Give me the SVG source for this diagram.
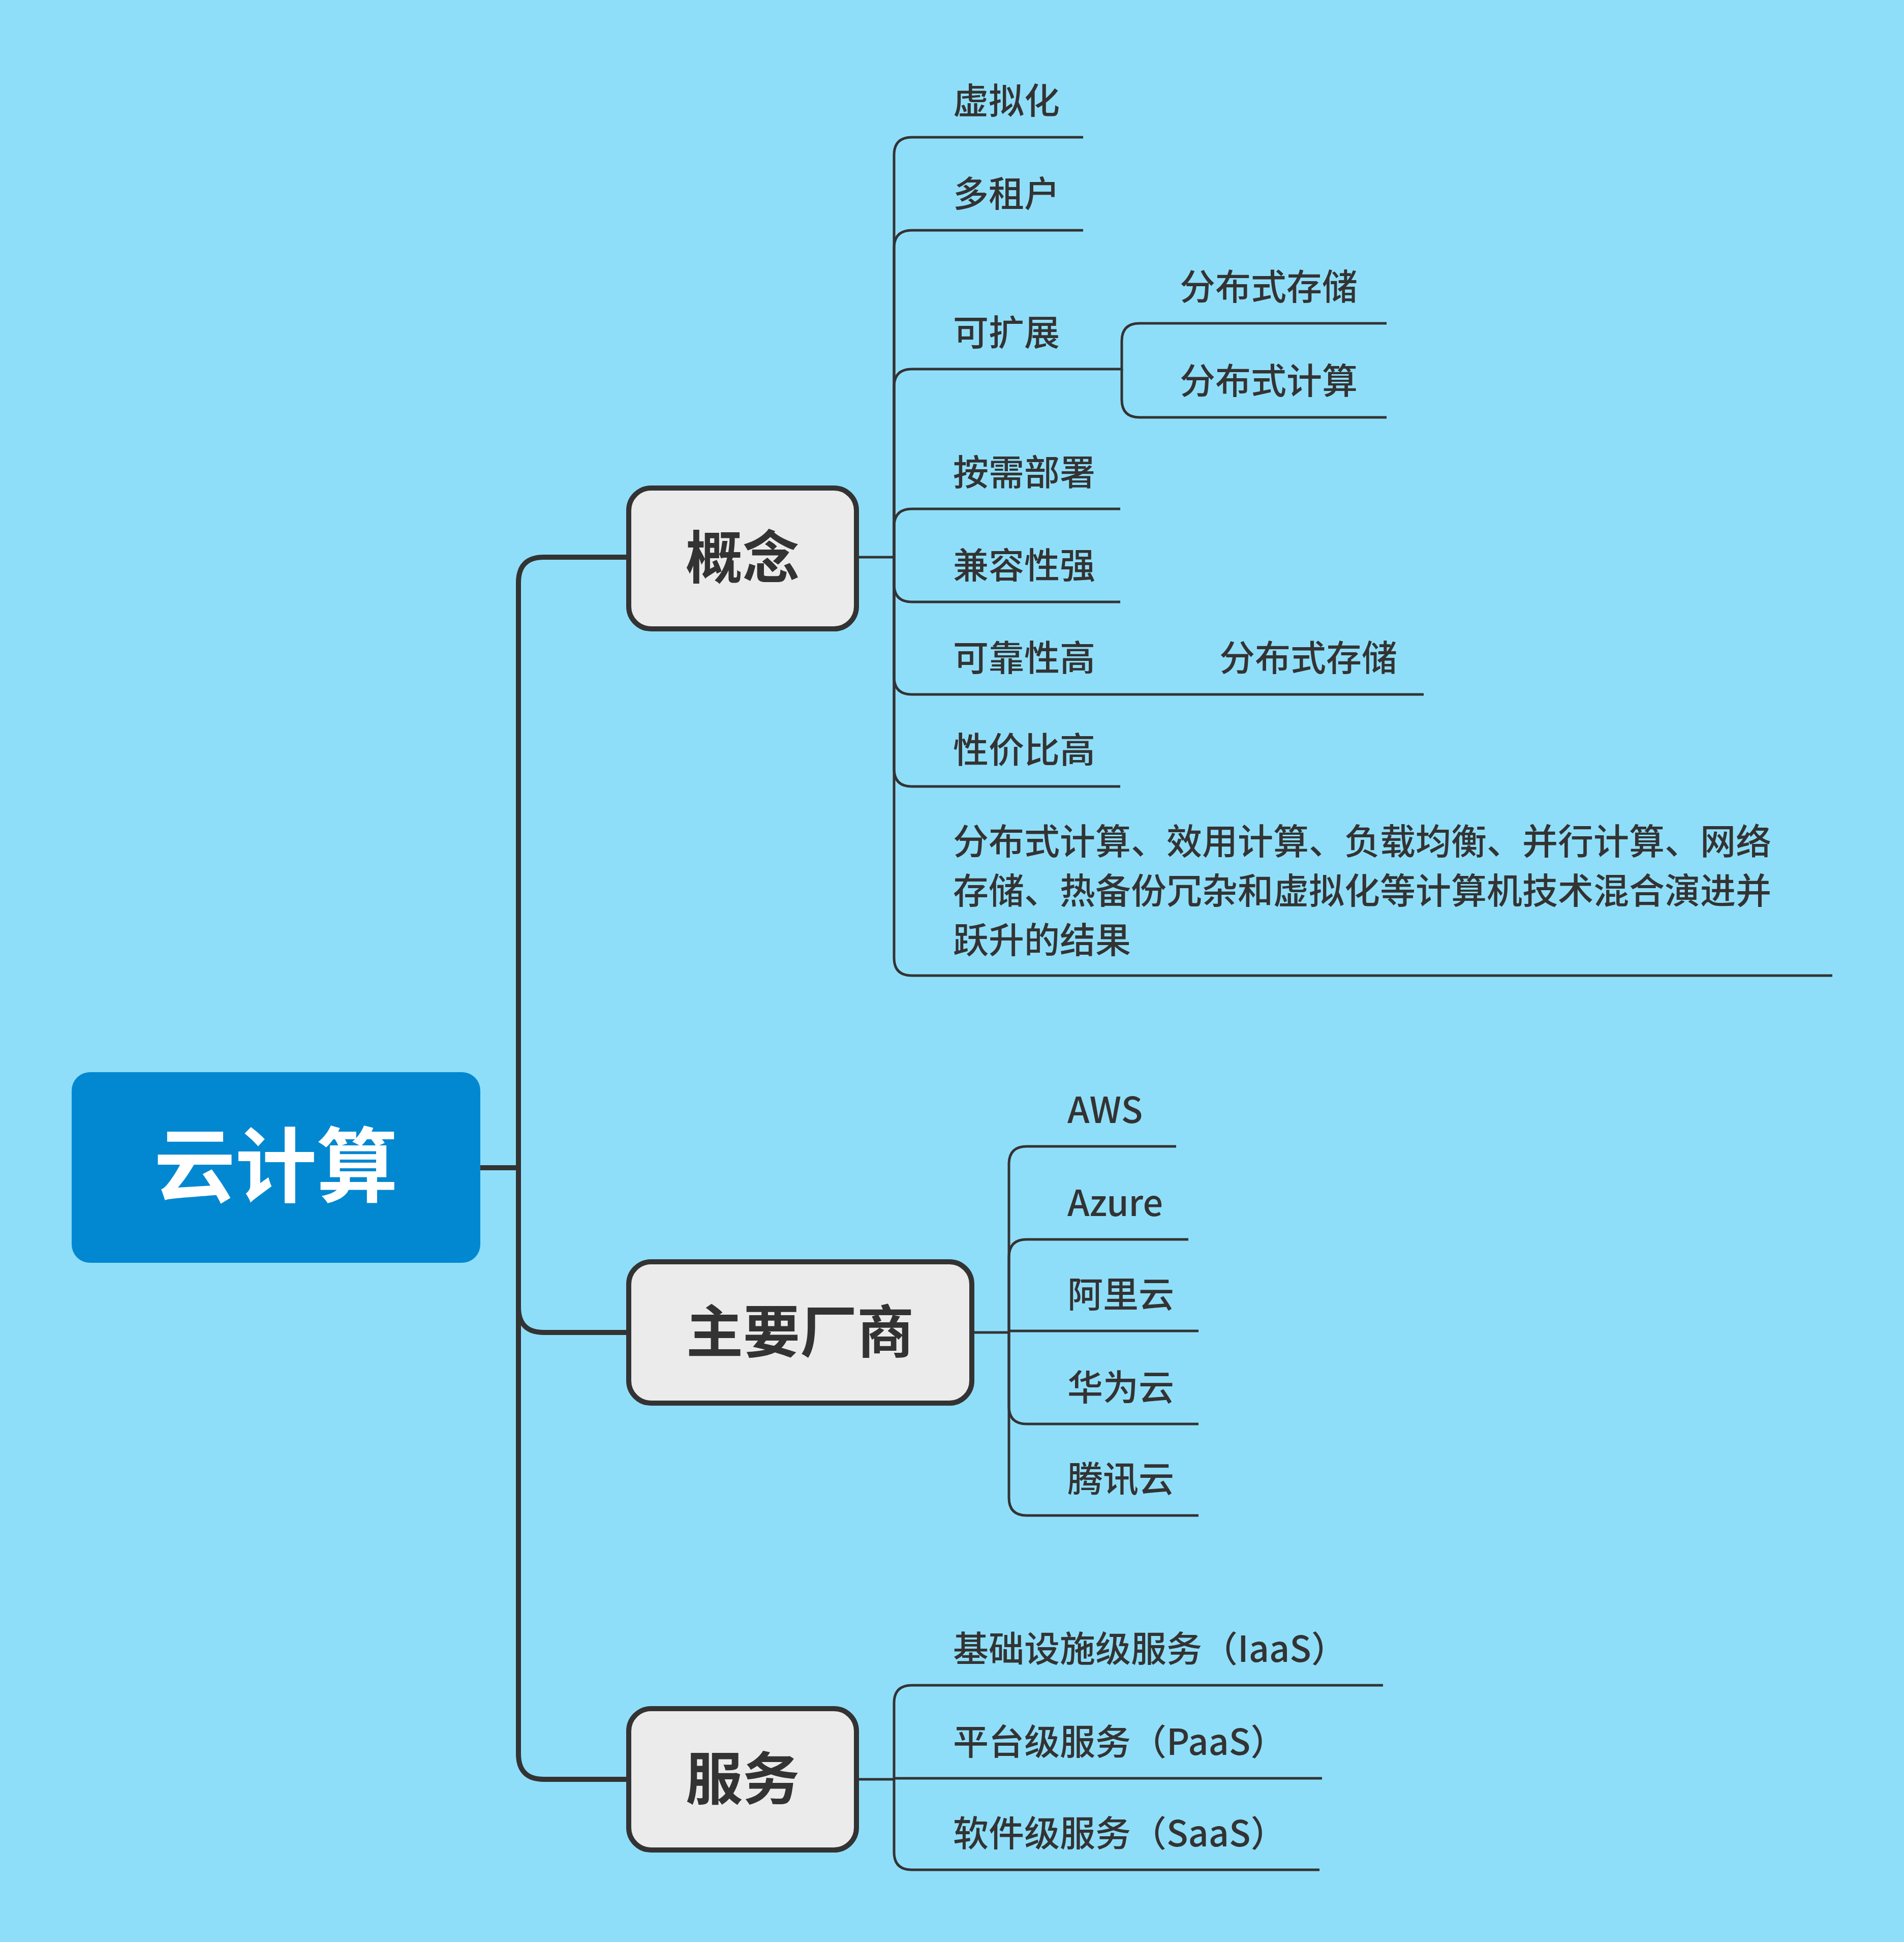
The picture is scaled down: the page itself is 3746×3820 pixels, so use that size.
<svg xmlns="http://www.w3.org/2000/svg" width="3746" height="3820" viewBox="0 0 3746 3820">
<style>
.bg{fill:#8fdef9}
.node{fill:#ebebeb;stroke:#333;stroke-width:10}
.nt{font-family:"Noto Sans CJK SC","Noto Sans",sans-serif;font-size:112px;font-weight:700;fill:#333;text-anchor:middle}
.lt{font-family:"Noto Sans CJK SC","Noto Sans",sans-serif;font-size:70px;font-weight:500;fill:#333}
.thick{fill:none;stroke:#333;stroke-width:10}
.thin{fill:none;stroke:#333;stroke-width:5}
</style>
<rect class="bg" width="3746" height="3820"/>
<g id="connectors">
<path class="thick" d="M945,2297 H1020"/>
<path class="thick" d="M1020,2297 V1146 Q1020,1096 1070,1096 H1237"/>
<path class="thick" d="M1020,2297 V2571 Q1020,2621 1070,2621 H1237"/>
<path class="thick" d="M1020,2297 V3450 Q1020,3500 1070,3500 H1237"/>
<path class="thin" d="M1685,1096 H1759"/>
<path class="thin" d="M1759,1096 V305 Q1759,270 1794,270 H2131"/>
<path class="thin" d="M1759,1096 V488 Q1759,453 1794,453 H2131"/>
<path class="thin" d="M1759,1096 V761 Q1759,726 1794,726 H2204"/>
<path class="thin" d="M1759,1096 V1036 Q1759,1001 1794,1001 H2204"/>
<path class="thin" d="M1759,1096 V1149 Q1759,1184 1794,1184 H2204"/>
<path class="thin" d="M1759,1096 V1331 Q1759,1366 1794,1366 H2801"/>
<path class="thin" d="M1759,1096 V1512 Q1759,1547 1794,1547 H2204"/>
<path class="thin" d="M1759,1096 V1884 Q1759,1919 1794,1919 H3605"/>
<path class="thin" d="M2204,726 H2207 V671 Q2207,636 2242,636 H2728"/>
<path class="thin" d="M2207,726 V786 Q2207,821 2242,821 H2728"/>
<path class="thin" d="M1912,2621 H1985"/>
<path class="thin" d="M1985,2621 V2290 Q1985,2255 2020,2255 H2314"/>
<path class="thin" d="M1985,2621 V2473 Q1985,2438 2020,2438 H2338"/>
<path class="thin" d="M1985,2618 H2358"/>
<path class="thin" d="M1985,2621 V2766 Q1985,2801 2020,2801 H2358"/>
<path class="thin" d="M1985,2621 V2946 Q1985,2981 2020,2981 H2358"/>
<path class="thin" d="M1685,3500 H1759"/>
<path class="thin" d="M1759,3500 V3350 Q1759,3315 1794,3315 H2721"/>
<path class="thin" d="M1759,3498 H2601"/>
<path class="thin" d="M1759,3500 V3643 Q1759,3678 1794,3678 H2596"/>
</g>
<g id="root">
<rect x="141" y="2109" width="804" height="375" rx="36" fill="#0288d1"/>
<text x="543" y="2352" font-family="Noto Sans CJK SC,sans-serif" font-size="160" font-weight="700" fill="#fff" text-anchor="middle">云计算</text>
</g>
<g id="n-concept"><rect class="node" x="1237" y="960" width="448" height="277" rx="44"/><text class="nt" x="1461" y="1138">概念</text></g>
<g id="n-vendor"><rect class="node" x="1237" y="2482" width="675" height="278" rx="44"/><text class="nt" x="1574" y="2661">主要厂商</text></g>
<g id="n-service"><rect class="node" x="1237" y="3361" width="448" height="278" rx="44"/><text class="nt" x="1461" y="3540">服务</text></g>
<g id="leaf-1"><text class="lt" x="1875" y="224">虚拟化</text></g>
<g id="leaf-2"><text class="lt" x="1875" y="407">多租户</text></g>
<g id="leaf-3"><text class="lt" x="1875" y="680">可扩展</text></g>
<g id="leaf-3a"><text class="lt" x="2321" y="590">分布式存储</text></g>
<g id="leaf-3b"><text class="lt" x="2321" y="775">分布式计算</text></g>
<g id="leaf-4"><text class="lt" x="1875" y="955">按需部署</text></g>
<g id="leaf-5"><text class="lt" x="1875" y="1138">兼容性强</text></g>
<g id="leaf-6"><text class="lt" x="1875" y="1320">可靠性高</text></g>
<g id="leaf-6a"><text class="lt" x="2399" y="1320">分布式存储</text></g>
<g id="leaf-7"><text class="lt" x="1875" y="1501">性价比高</text></g>
<g id="leaf-8"><text class="lt" x="1875" y="1681">分布式计算、效用计算、负载均衡、并行计算、网络</text><text class="lt" x="1875" y="1778">存储、热备份冗杂和虚拟化等计算机技术混合演进并</text><text class="lt" x="1875" y="1875">跃升的结果</text></g>
<g id="v-1"><text class="lt" x="2100" y="2209" font-weight="400">AWS</text></g>
<g id="v-2"><text class="lt" x="2100" y="2392" font-weight="400">Azure</text></g>
<g id="v-3"><text class="lt" x="2100" y="2572">阿里云</text></g>
<g id="v-4"><text class="lt" x="2100" y="2755">华为云</text></g>
<g id="v-5"><text class="lt" x="2100" y="2935">腾讯云</text></g>
<g id="s-1"><text class="lt" x="1875" y="3269">基础设施级服务（IaaS）</text></g>
<g id="s-2"><text class="lt" x="1875" y="3452">平台级服务（PaaS）</text></g>
<g id="s-3"><text class="lt" x="1875" y="3632">软件级服务（SaaS）</text></g>
</svg>
